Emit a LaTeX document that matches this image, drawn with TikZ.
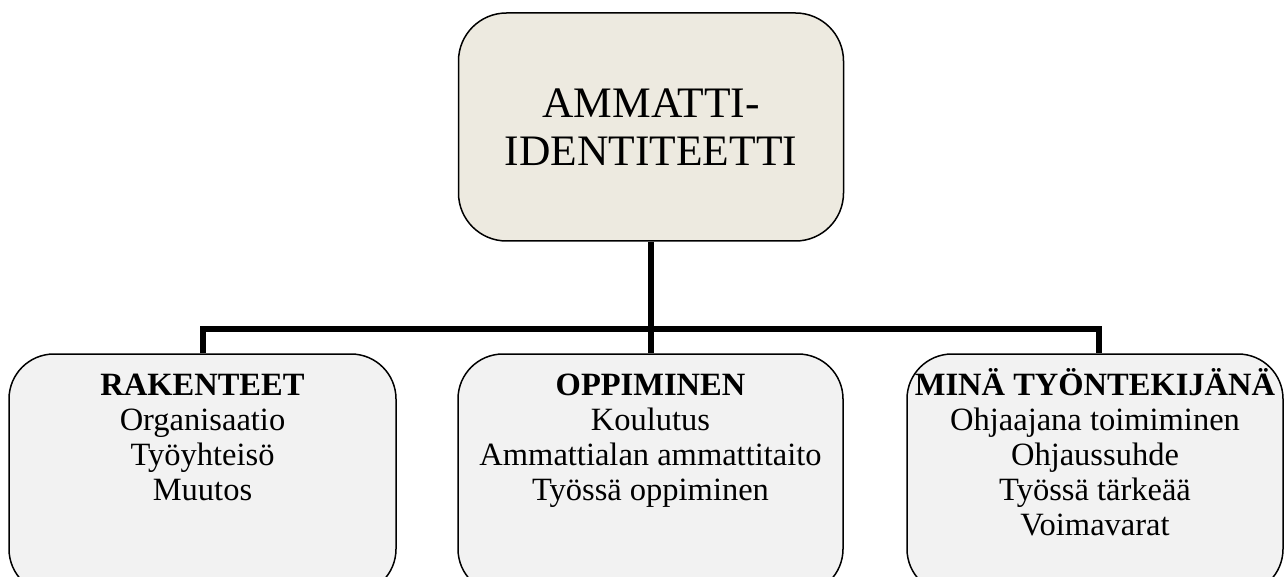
\documentclass[tikz,border=0pt]{standalone}
\usepackage{fontspec}
\setmainfont{Liberation Serif}
\definecolor{topfill}{HTML}{EDEAE0}
\definecolor{subfill}{HTML}{F2F2F2}
\newcommand{\firststrut}{\rule{0pt}{30pt}}
\begin{document}
\begin{tikzpicture}[x=1pt,y=-1pt,
  topbox/.style={draw=black,line width=1.5pt,fill=topfill,rounded corners=48pt,
    minimum width=385pt,minimum height=228pt,inner sep=0pt,align=center,
    font=\fontsize{43.5}{49}\selectfont},
  subbox/.style={draw=black,line width=1.5pt,fill=subfill,rounded corners=45pt,
    inner sep=0pt},
  subtext/.style={anchor=north,align=center,inner sep=0pt,
    font=\fontsize{32.5}{35}\selectfont},
  bar/.style={line width=5.5pt}]
\useasboundingbox (0,0) rectangle (1284,577);
\clip (0,0) rectangle (1284,577);
\fill[white] (0,0) rectangle (1284,577);
\node[topbox] (T) at (651,127) {AMMATTI-\\[-1pt]IDENTITEETTI};
\node[subbox,minimum width=387pt,minimum height=240pt] (L) at (202.5,474) {};
\node[subbox,minimum width=385pt,minimum height=240pt] (M) at (650.5,474) {};
\node[subbox,minimum width=376pt,minimum height=240pt] (R) at (1095,474) {};
\node[subtext] (Lt) at (202.5,365) {\firststrut\textbf{RAKENTEET}\\Organisaatio\\Työyhteisö\\Muutos};
\node[subtext] (Mt) at (650.5,365) {\firststrut\textbf{OPPIMINEN}\\Koulutus\\Ammattialan ammattitaito\\Työssä oppiminen};
\node[subtext] (Rt) at (1095,365) {\firststrut\textbf{MINÄ TYÖNTEKIJÄNÄ}\\Ohjaajana toimiminen\\Ohjaussuhde\\Työssä tärkeää\\Voimavarat};
\coordinate (J) at (651,329);
\coordinate (JL) at (203,329);
\coordinate (JR) at (1099,329);
\draw[bar] (T.south) -- (J);
\draw[bar] (J) -- (M.north -| J);
\draw[bar,line join=miter] (JL |- L.north) -- (JL) -- (JR) -- (JR |- R.north);
\end{tikzpicture}
\end{document}
